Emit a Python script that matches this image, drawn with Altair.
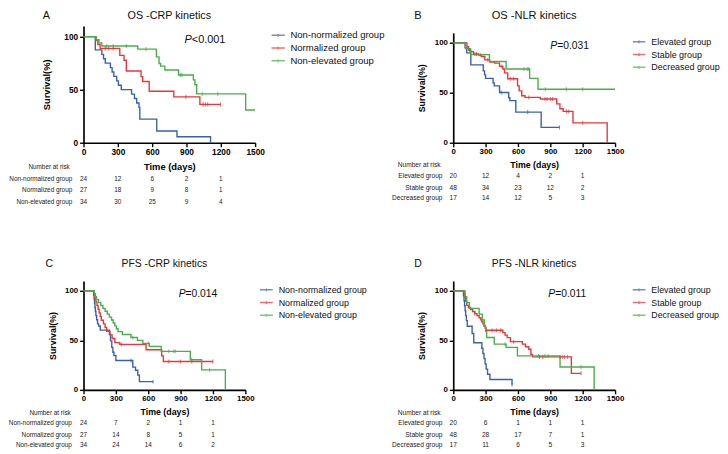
import altair as alt
import pandas as pd

FONT = "Liberation Sans"
COLORS = ["#3b60aa", "#e8363c", "#4bad4b"]
RISK_TIMES = [0, 300, 600, 900, 1200]
X_TICKS = [0, 300, 600, 900, 1200, 1500]
Y_TICKS = [0, 50, 100]

# ---------------- Panel A : OS - CRP kinetics ----------------
A_groups = ["Non-normalized group", "Normalized group", "Non-elevated group"]
A1_t = [0, 103, 160, 175, 190, 235, 250, 265, 290, 305, 330, 420, 445, 465, 485, 492, 640, 817, 1110]
A1_s = [100, 87.5, 83.3, 79.2, 75.0, 70.8, 66.7, 62.5, 58.3, 54.2, 50.0, 45.8, 41.7, 37.5, 33.3, 22.2, 11.1, 5.6, 0]
A2_t = [0, 110, 125, 145, 317, 354, 374, 503, 517, 574, 789, 1017, 1197]
A2_s = [100, 96.3, 92.6, 88.9, 82.4, 77.8, 67.6, 62.3, 57.7, 48.5, 43.2, 36.1, 36.1]
A3_t = [0, 110, 135, 160, 474, 637, 660, 674, 711, 831, 960, 974, 989, 1417, 1500]
A3_s = [100, 97.1, 94.1, 91.2, 88.2, 80.9, 74.7, 72.2, 68.5, 63.9, 59.3, 54.6, 46.0, 30.9, 30.9]
A1_ct, A1_cs = [], []
A2_ct = [190, 220, 260, 895, 1045, 1065, 1085, 1197]
A2_cs = [88.9, 88.9, 88.9, 43.2, 36.1, 36.1, 36.1, 36.1]
A3_ct = [203, 260, 374, 546, 846, 860, 1037, 1174]
A3_cs = [91.2, 91.2, 91.2, 88.2, 63.9, 63.9, 46.0, 46.0]
A_risk = [[24, 12, 6, 2, 1], [27, 18, 9, 8, 1], [34, 30, 25, 9, 4]]

# ---------------- Panel B : OS - NLR kinetics ----------------
B_groups = ["Elevated group", "Stable group", "Decreased group"]
B1_t = [0, 110, 125, 163, 278, 290, 300, 369, 380, 429, 514, 525, 580, 815, 985]
B1_s = [100, 95, 90, 78, 72, 68, 64.4, 60, 56.9, 50.3, 45, 42.2, 30.7, 15.4, 15.4]
B2_t = [0, 127, 142, 163, 187, 233, 263, 293, 339, 384, 429, 460, 475, 505, 596, 611, 635, 665, 807, 959, 989, 1019, 1110, 1427]
B2_s = [100, 96.1, 92.8, 91.2, 88.9, 87.9, 86.3, 83.0, 80.7, 79.7, 76.5, 73.9, 69.9, 64.1, 56.9, 52.0, 47.1, 45.4, 43.8, 38.9, 34.0, 31.4, 19.9, 0]
B3_t = [0, 115, 160, 335, 490, 708, 786, 1500]
B3_s = [100, 94.1, 88.2, 81.4, 73.9, 64.4, 53.6, 53.6]
B1_ct = [445, 690, 985]
B1_cs = [50.3, 30.7, 15.4]
B2_ct = [150, 200, 215, 250, 320, 450, 530, 560, 700, 850, 870, 900, 920, 1050, 1070, 1200]
B2_cs = [92.8, 88.9, 88.9, 87.9, 83.0, 76.5, 64.1, 64.1, 45.4, 43.8, 43.8, 43.8, 43.8, 31.4, 31.4, 19.9]
B3_ct = [656, 686, 700, 853, 1049, 1200]
B3_cs = [73.9, 73.9, 73.9, 53.6, 53.6, 53.6]
B_risk = [[20, 12, 4, 2, 1], [48, 34, 23, 12, 2], [17, 14, 12, 5, 3]]

# ---------------- Panel C : PFS - CRP kinetics ----------------
C_groups = A_groups
C1_t = [0, 94, 98, 102, 106, 110, 115, 122, 130, 140, 155, 240, 250, 262, 272, 282, 300, 457, 482, 503, 518, 645]
C1_s = [100, 95.8, 91.7, 87.5, 83.3, 79.2, 75.0, 70.8, 66.7, 64.6, 60.4, 56.1, 49.5, 43.0, 38.0, 34.7, 29.7, 23.0, 19.8, 14.9, 8.3, 8.3]
C2_t = [0, 97, 105, 115, 125, 135, 145, 155, 165, 185, 200, 215, 245, 265, 290, 336, 580, 725, 740, 1200]
C2_s = [100, 96.3, 92.6, 88.9, 85.2, 81.5, 77.8, 74.1, 70.4, 66.7, 63.0, 59.3, 55.6, 51.9, 47.8, 46.0, 40.5, 34.4, 28.7, 28.7]
C3_t = [0, 100, 110, 120, 140, 160, 180, 200, 220, 240, 260, 275, 290, 305, 320, 360, 440, 500, 550, 610, 720, 990, 1095, 1315]
C3_s = [100, 97.1, 94.1, 91.2, 88.2, 85.3, 82.4, 79.4, 76.5, 73.5, 70.6, 67.6, 64.7, 61.8, 58.8, 55.9, 52.9, 50.0, 47.0, 44.0, 38.9, 30.4, 20.2, 0]
C1_ct = [440, 645]
C1_cs = [29.7, 8.3]
C2_ct = [351, 791, 897, 1003, 1200]
C2_cs = [46.0, 28.7, 28.7, 28.7, 28.7]
C3_ct = [457, 600, 790, 836, 850, 1003, 1169]
C3_cs = [52.9, 47.0, 38.9, 38.9, 38.9, 30.4, 20.2]
C_risk = [[24, 7, 2, 1, 1], [27, 14, 8, 5, 1], [34, 24, 14, 6, 2]]

# ---------------- Panel D : PFS - NLR kinetics ----------------
D_groups = B_groups
D1_t = [0, 95, 100, 105, 110, 115, 122, 130, 175, 190, 265, 275, 285, 295, 305, 318, 340, 545]
D1_s = [100, 95, 90, 85, 80, 75, 70, 64.3, 57, 47.6, 42, 36.8, 31.6, 26.3, 21, 15.8, 10.5, 5.3]
D2_t = [0, 100, 105, 115, 125, 140, 160, 180, 200, 220, 240, 255, 265, 275, 285, 295, 305, 460, 480, 500, 530, 640, 670, 700, 720, 735, 1095, 1185]
D2_s = [100, 97.9, 93.8, 89.6, 85.4, 83.3, 81.2, 79.2, 77.1, 75.0, 72.9, 70.8, 68.8, 66.7, 64.6, 62.5, 60.3, 57.8, 55.3, 52.8, 48.7, 46.2, 43.6, 41.0, 35.9, 33.3, 16.7, 16.7]
D3_t = [0, 110, 125, 150, 240, 270, 290, 300, 310, 380, 490, 595, 990, 1306]
D3_s = [100, 94.1, 88.2, 82.4, 76.5, 70.6, 64.7, 58.8, 52.9, 46.2, 42.9, 34.3, 23.1, 0]
D1_ct = [545]
D1_cs = [5.3]
D2_ct = [200, 360, 400, 440, 560, 800, 830, 990, 1010, 1030, 1060, 1185]
D2_cs = [77.1, 60.3, 60.3, 60.3, 48.7, 33.3, 33.3, 33.3, 33.3, 33.3, 33.3, 16.7]
D3_ct = [480, 790, 850, 880, 1185]
D3_cs = [46.2, 34.3, 34.3, 34.3, 23.1]
D_risk = [[20, 6, 1, 1, 1], [48, 28, 17, 7, 1], [17, 11, 6, 5, 3]]

ONE = pd.DataFrame({"a": [0]})
LEGEND_SYMBOL = "M-1,0H1M0,-0.22V0.22"  # line with a small censor tick


def frame(groups, pairs):
    rows = []
    for g, (t, s) in zip(groups, pairs):
        for ti, si in zip(t, s):
            rows.append({"group": g, "time": ti, "surv": si})
    return pd.DataFrame(rows, columns=["group", "time", "surv"])


def label(text, x, y, size, **kw):
    return alt.Chart(ONE).mark_text(text=text, font=FONT, fontSize=size, **kw).encode(
        x=alt.value(x), y=alt.value(y))


def panel(groups, curves, cens, risk, title, letter, pval, L):
    k = L["k"]
    W, H = L["w"], L["h"]
    cdf = frame(groups, curves)
    tdf = frame(groups, cens)
    x = alt.X("time:Q", scale=alt.Scale(domain=[0, 1500], nice=False, zero=False),
              axis=alt.Axis(values=X_TICKS, title="Time (days)", format="d",
                            labelFontSize=8 * k, titleFontSize=9 * k, titlePadding=L["xtp"],
                            labelPadding=1, tickSize=4, labelFlush=False, labelOverlap=False))
    y = alt.Y("surv:Q", scale=alt.Scale(domain=[0, 110], nice=False, zero=False),
              axis=alt.Axis(values=Y_TICKS, title="Survival(%)", format="d",
                            labelFontSize=8 * k, titleFontSize=9 * k, titlePadding=L["ytp"],
                            labelPadding=2, tickSize=4, labelOverlap=False))
    color = alt.Color("group:N", scale=alt.Scale(domain=groups, range=COLORS),
                      legend=alt.Legend(title=None, orient="none", legendX=L["lx"], legendY=L["ly"],
                                        symbolType=LEGEND_SYMBOL, symbolSize=L["ls"] ** 2,
                                        symbolStrokeWidth=1.5, labelFontSize=L["lf"],
                                        labelFont=FONT, labelColor="#111", labelOffset=5,
                                        rowPadding=0, padding=0))
    lines = alt.Chart(cdf).mark_line(interpolate="step-after", strokeWidth=1.4).encode(
        x=x, y=y, color=color)
    ticks = alt.Chart(tdf).mark_tick(orient="vertical", size=4 * k, thickness=1.1).encode(
        x=x, y=y, color=color)
    layers = [lines, ticks]
    rf = L["rf"]
    ry = L["ry"]
    layers.append(label("Number at risk", L["nx"], ry[0], rf, align="right", color="#222"))
    for i, g in enumerate(groups):
        rdf = pd.DataFrame({"time": RISK_TIMES, "n": risk[i]})
        layers.append(alt.Chart(rdf).mark_text(font=FONT, fontSize=rf, color="#222").encode(
            x=x, y=alt.value(ry[i + 1]), text="n:Q"))
        layers.append(label(g, L["rx"], ry[i + 1], rf, align="right", color="#222"))
    layers.append(label(title, W / 2, L["ty"], L["tf"], align="center", color="#111"))
    layers.append(label(letter, L["ltx"], L["ty"], L["tf"], align="center", color="#111"))
    pf = L["pf"]
    layers.append(label("P", L["px"], L["py"], pf, align="left", fontStyle="italic", color="#111"))
    layers.append(label(pval, L["px"] + 0.667 * pf, L["py"], pf, align="left", color="#111"))
    return alt.layer(*layers).properties(width=W, height=H)


LA = dict(w=175, h=119, k=1.06, lx=191, ly=2, ls=13.5, lf=9.7, xtp=5.5, ytp=13,
          rf=6.5, ry=[143.3, 156, 167.7, 179.3], rx=-11.5, nx=-14, ty=-10, ltx=-38,
          pf=11.1, px=103, py=14, tf=11.0)
LB = dict(w=165, h=112, k=1.0, lx=182, ly=1.6, ls=12.7, lf=9.1, xtp=5.5, ytp=7.5,
          rf=6.7, ry=[135, 146.3, 158, 168.3], rx=-11, nx=-13, ty=-17, ltx=-36,
          pf=10.5, px=99, py=13, tf=11.3)
LC = dict(w=165, h=111, k=1.0, lx=179, ly=1.5, ls=13, lf=9.1, xtp=5.5, ytp=7.5,
          rf=6.5, ry=[134.3, 145, 157.3, 167.7], rx=-12, nx=-13, ty=-17, ltx=-35,
          pf=10.5, px=97, py=13, tf=10.6)
LD = dict(w=165, h=111, k=1.0, lx=182, ly=1.5, ls=13, lf=9.0, xtp=5.5, ytp=7.5,
          rf=6.7, ry=[134.3, 145, 157.3, 167.7], rx=-11, nx=-13, ty=-17, ltx=-36,
          pf=10.5, px=97, py=13, tf=10.6)

pA = panel(A_groups, [(A1_t, A1_s), (A2_t, A2_s), (A3_t, A3_s)],
           [(A1_ct, A1_cs), (A2_ct, A2_cs), (A3_ct, A3_cs)], A_risk,
           "OS -CRP kinetics", "A", "<0.001", LA)
pB = panel(B_groups, [(B1_t, B1_s), (B2_t, B2_s), (B3_t, B3_s)],
           [(B1_ct, B1_cs), (B2_ct, B2_cs), (B3_ct, B3_cs)], B_risk,
           "OS -NLR kinetics", "B", "=0.031", LB)
pC = panel(C_groups, [(C1_t, C1_s), (C2_t, C2_s), (C3_t, C3_s)],
           [(C1_ct, C1_cs), (C2_ct, C2_cs), (C3_ct, C3_cs)], C_risk,
           "PFS -CRP kinetics", "C", "=0.014", LC)
pD = panel(D_groups, [(D1_t, D1_s), (D2_t, D2_s), (D3_t, D3_s)],
           [(D1_ct, D1_cs), (D2_ct, D2_cs), (D3_ct, D3_cs)], D_risk,
           "PFS -NLR kinetics", "D", "=0.011", LD)

spacer = alt.Chart(ONE).mark_point(opacity=0, size=1).encode(
    x=alt.value(0), y=alt.value(0)).properties(width=165, height=7)

colB = alt.vconcat(spacer, pB, spacing=0, bounds="flush").resolve_scale(color="independent")
top = alt.hconcat(pA, colB, spacing=202, bounds="flush").resolve_scale(color="independent")
bottom = alt.hconcat(pC, pD, spacing=212, bounds="flush").resolve_scale(color="independent")

# nested concat rows count as zero height under flush bounds: spacing = row-top distance
chart = (
    alt.vconcat(top, bottom, spacing=260, bounds="flush")
    .resolve_scale(color="independent")
    .properties(padding={"left": 0, "top": -2, "right": 0, "bottom": 0}, background="white")
    .configure(font=FONT)
    .configure_view(stroke=None)
    .configure_axis(labelFont=FONT, titleFont=FONT, labelFontWeight="bold",
                    titleFontWeight="bold", labelColor="#000", titleColor="#000",
                    domainColor="#000", tickColor="#000", domainWidth=1.7,
                    tickWidth=1.4, grid=False)
)

chart.save("out.html", embed_options={"renderer": "svg", "actions": False})
